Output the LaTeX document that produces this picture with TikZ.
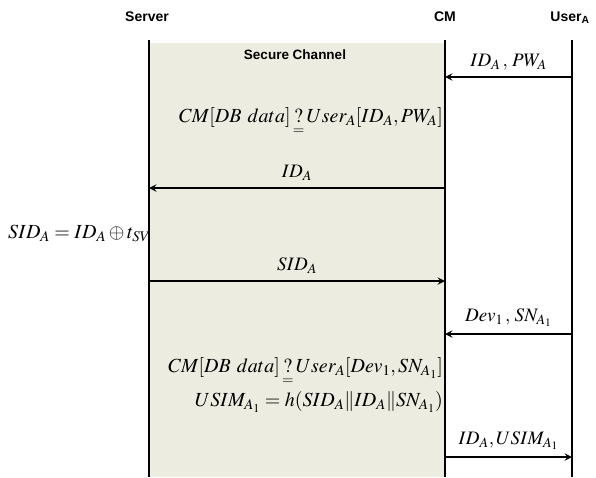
\documentclass[tikz,border=0pt]{standalone}
\usepackage{amsmath,amssymb}
\usepackage[no-math]{fontspec}
\usepackage{mathptmx}
\newfontfamily\headfont{Liberation Sans}
\usepackage{tikz}
\usetikzlibrary{arrows,positioning}
\definecolor{chanfill}{RGB}{236,237,224}
\tikzstyle{head} = [font=\headfont\bfseries\fontsize{14}{16}\selectfont, inner sep=0pt]
\tikzstyle{life} = [line width=2.2pt]
\tikzstyle{msg} = [line width=2.2pt,->,>=stealth]
\tikzstyle{lbl} = [font=\fontsize{19}{22}\selectfont, inner sep=0pt]
\tikzstyle{calc} = [font=\fontsize{20}{24}\selectfont, inner sep=0pt]
\newcommand{\qeq}{\,{\underset{=}{?}}\,}
\begin{document}
\begin{tikzpicture}[x=1pt,y=-1pt]
			\useasboundingbox (0,0) rectangle (596,477);
			% lifelines
			\coordinate (S0) at (149,40);
			\coordinate (S1) at (149,477);
			\coordinate (C0) at (445,40);
			\coordinate (C1) at (445,477);
			\coordinate (U0) at (572,40);
			\coordinate (U1) at (572,477);
			% message heights
			\coordinate (U2) at (572,77);
			\coordinate (C2) at (445,77);
			\coordinate (C3) at (445,188);
			\coordinate (S3) at (149,188);
			\coordinate (S4) at (149,281);
			\coordinate (C4) at (445,281);
			\coordinate (U5) at (572,334);
			\coordinate (C5) at (445,334);
			\coordinate (C6) at (445,457);
			\coordinate (U6) at (572,457);
			% channel
			\fill[chanfill] (150,43) rectangle (444,477);
			\node[head, font=\headfont\bfseries\fontsize{13.5}{15}\selectfont] (channel) at (295,55) {Secure Channel};
			\draw[life] (S0) -- (S1);
			\draw[life] (C0) -- (C1);
			\draw[life] (U0) -- (U1);
			\node[head] (server) at (147,17) {Server};
			\node[head] (cm) at (445,17) {CM};
			\node[head] (user) at (570,18) {User$_{\text{A}}$};
			% messages
			\draw[msg] (U2) -- (C2) node[lbl, midway, above=6pt] (m1) {$ID_{A}\,,\,PW_{A}$};
			\node[calc, anchor=east] (chk1) at (443,122) {$CM[DB\ data]\qeq User_{A}[ID_{A},PW_{A}]$};
			\draw[msg] (C3) -- (S3) node[lbl, midway, above=6pt] (m2) {$ID_{A}$};
			\node[calc, anchor=west] (sid) at (8,233) {$SID_{A}=ID_{A}\oplus t_{SV}$};
			\draw[msg] (S4) -- (C4) node[lbl, midway, above=6pt] (m3) {$SID_{A}$};
			\draw[msg] (U5) -- (C5) node[lbl, midway, above=6pt] (m4) {$Dev_1\,,\,SN_{A_1}$};
			\node[calc, anchor=east] (chk2) at (443,372) {$CM[DB\ data]\qeq User_{A}[Dev_1,SN_{A_1}]$};
			\node[calc, anchor=east] (usim) at (443,402) {$USIM_{A_1}=h(SID_{A}\|ID_{A}\|SN_{A_1})$};
			\draw[msg] (C6) -- (U6) node[lbl, midway, above=6pt] (m5) {$ID_{A},USIM_{A_1}$};
\end{tikzpicture}
\end{document}
